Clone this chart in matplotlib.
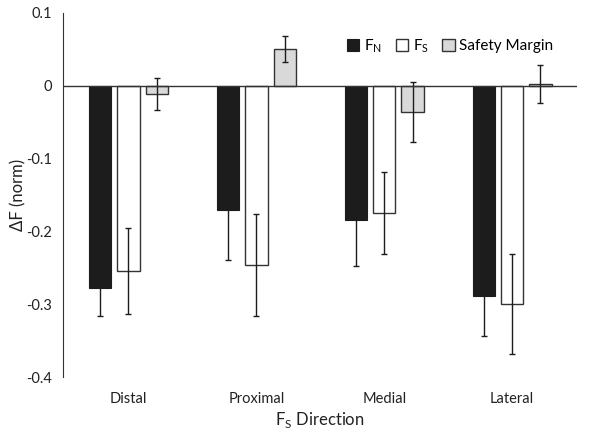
import numpy as np
import matplotlib
matplotlib.use('Agg')
import matplotlib.pyplot as plt

plt.rcParams['font.family'] = ['Lato', 'DejaVu Sans']

# ── Data ──────────────────────────────────────────────────────────────────
directions = ['Distal', 'Proximal', 'Medial', 'Lateral']
fn_mean = [-0.278, -0.171, -0.184, -0.289]
fn_err  = [0.038, 0.069, 0.064, 0.054]
fs_mean = [-0.254, -0.246, -0.175, -0.300]
fs_err  = [0.059, 0.070, 0.056, 0.069]
sm_mean = [-0.011, 0.050, -0.036, 0.002]
sm_err  = [0.022, 0.018, 0.041, 0.026]

# ── Figure ───────────────────────────────────────────────────────────────
fig = plt.figure(figsize=(6.02, 4.41), dpi=100)
ax = fig.add_axes([0.105, 0.145, 0.854, 0.826])

x = np.arange(len(directions))
w = 0.175
step = 0.222
err_kw = dict(ecolor='#1c1c1c', elinewidth=1.0, capsize=2.2, capthick=1.0)

ax.bar(x - step, fn_mean, w, yerr=fn_err, color='#1c1c1c', edgecolor='#1c1c1c',
       linewidth=0.8, error_kw=err_kw, label=r'F$_{\mathregular{N}}$', zorder=2)
ax.bar(x, fs_mean, w, yerr=fs_err, color='white', edgecolor='#333333',
       linewidth=1.0, error_kw=err_kw, label=r'F$_{\mathregular{S}}$', zorder=2)
ax.bar(x + step, sm_mean, w, yerr=sm_err, color='#d9d9d9', edgecolor='#333333',
       linewidth=1.0, error_kw=err_kw, label='Safety Margin', zorder=2)

ax.axhline(0, color='#333333', linewidth=1.0, zorder=3)

ax.set_xlim(-0.51, 3.51)
ax.set_ylim(-0.4, 0.1)
ax.set_yticks([0.1, 0, -0.1, -0.2, -0.3, -0.4])
ax.set_yticklabels(['0.1', '0', '-0.1', '-0.2', '-0.3', '-0.4'])
ax.set_xticks(x)
ax.set_xticklabels(directions)
ax.tick_params(axis='both', length=0, labelsize=10.5, colors='#222222')
ax.tick_params(axis='x', pad=11)
ax.tick_params(axis='y', pad=8)

for s in ['top', 'right', 'bottom']:
    ax.spines[s].set_visible(False)
ax.spines['left'].set_color('#333333')

ax.set_ylabel('ΔF (norm)', fontsize=12, color='#222222', labelpad=0)
ax.set_xlabel(r'F$_{\mathregular{S}}$ Direction', fontsize=12, color='#222222', labelpad=3)

ax.legend(loc='upper right', bbox_to_anchor=(0.965, 0.95), ncol=3, frameon=False,
          fontsize=11, handlelength=0.8, handleheight=0.8, handletextpad=0.3,
          columnspacing=0.9, borderaxespad=0)

plt.savefig('out.png', dpi=100)
